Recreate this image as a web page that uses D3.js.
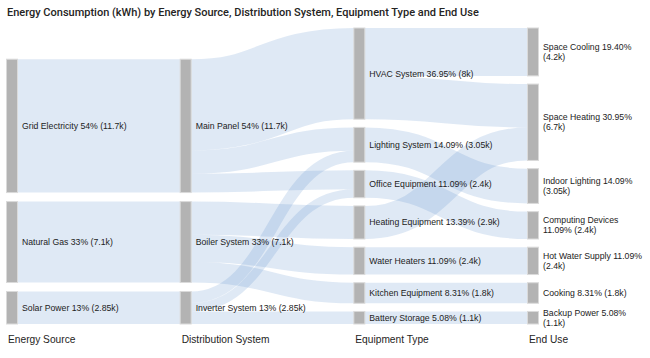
<!DOCTYPE html>
<html><head><meta charset="utf-8">
<script src="https://cdn.jsdelivr.net/npm/d3@7"></script>
<style>body{margin:0;background:#fff;} svg{display:block;}</style>
</head><body><svg id="c" width="650" height="358"></svg>
<script>
const chartTitle = "Energy Consumption (kWh) by Energy Source, Distribution System, Equipment Type and End Use";
const columnNames = ["Energy Source", "Distribution System", "Equipment Type", "End Use"];

const energySources = ["Grid Electricity", "Natural Gas", "Solar Power"];
const energySourceValues = [11.7, 7.1, 2.85];
const energySourcePct = ["54%", "33%", "13%"];

const distributionSystems = ["Main Panel", "Boiler System", "Inverter System"];
const distributionValues = [11.7, 7.1, 2.85];
const distributionPct = ["54%", "33%", "13%"];

const equipmentTypes = ["HVAC System", "Lighting System", "Office Equipment", "Heating Equipment", "Water Heaters", "Kitchen Equipment", "Battery Storage"];
const equipmentValues = [8, 3.05, 2.4, 2.9, 2.4, 1.8, 1.1];
const equipmentPct = ["36.95%", "14.09%", "11.09%", "13.39%", "11.09%", "8.31%", "5.08%"];

const endUses = ["Space Cooling", "Space Heating", "Indoor Lighting", "Computing Devices", "Hot Water Supply", "Cooking", "Backup Power"];
const endUseValues = [4.2, 6.7, 3.05, 2.4, 2.4, 1.8, 1.1];
const endUsePct = ["19.40%", "30.95%", "14.09%", "11.09%", "11.09%", "8.31%", "5.08%"];

const linkSources = ["Grid Electricity", "Natural Gas", "Solar Power",
  "Main Panel", "Main Panel", "Main Panel",
  "Boiler System", "Boiler System", "Boiler System",
  "Inverter System", "Inverter System", "Inverter System",
  "HVAC System", "HVAC System", "Lighting System", "Office Equipment",
  "Heating Equipment", "Water Heaters", "Kitchen Equipment", "Battery Storage"];
const linkTargets = ["Main Panel", "Boiler System", "Inverter System",
  "HVAC System", "Lighting System", "Office Equipment",
  "Heating Equipment", "Water Heaters", "Kitchen Equipment",
  "Lighting System", "Office Equipment", "Battery Storage",
  "Space Cooling", "Space Heating", "Indoor Lighting", "Computing Devices",
  "Space Heating", "Hot Water Supply", "Cooking", "Backup Power"];
const linkValues = [11.7, 7.1, 2.85,
  8, 2.05, 1.65,
  2.9, 2.4, 1.8,
  1.0, 0.75, 1.1,
  4.2, 3.8, 3.05, 2.4,
  2.9, 2.4, 1.8, 1.1];

// ---- build table ----
const groups = [
  [energySources, energySourceValues, energySourcePct],
  [distributionSystems, distributionValues, distributionPct],
  [equipmentTypes, equipmentValues, equipmentPct],
  [endUses, endUseValues, endUsePct]
];
const nodes = [];
const byName = {};
groups.forEach((g, ci) => {
  g[0].forEach((name, i) => {
    const n = {name, value: g[1][i], pct: g[2][i], col: ci, sourceLinks: [], targetLinks: []};
    nodes.push(n); byName[name] = n;
  });
});
const links = linkSources.map((s, i) => {
  const l = {source: byName[linkSources[i]], target: byName[linkTargets[i]], value: linkValues[i]};
  l.source.sourceLinks.push(l); l.target.targetLinks.push(l);
  return l;
});

// ---- layout ----
const nodeWidth = 11;
const x = d3.scalePoint().domain(columnNames).range([6.5, 527.5]);
const total = d3.sum(energySourceValues);
const h = d3.scaleLinear().domain([0, total]).range([0, 246.8]);
const bottom = 324;
columnNames.forEach((c, ci) => {
  const colNodes = nodes.filter(n => n.col === ci);
  const pad = colNodes.length > 3 ? 8.2 : 9;
  const span = d3.sum(colNodes, n => h(n.value)) + pad * (colNodes.length - 1);
  let y = bottom - span;
  colNodes.forEach(n => {
    n.x0 = x(c); n.x1 = n.x0 + nodeWidth;
    n.y0 = y; n.y1 = y + h(n.value); y = n.y1 + pad;
  });
});
nodes.forEach(n => {
  n.sourceLinks.sort((a, b) => a.target.y0 - b.target.y0);
  n.targetLinks.sort((a, b) => a.source.y0 - b.source.y0);
  let y = n.y0;
  n.sourceLinks.forEach(l => { l.width = h(l.value); l.y0 = y + l.width / 2; y += l.width; });
  y = n.y0;
  n.targetLinks.forEach(l => { l.y1 = y + l.width / 2; y += l.width; });
});

const svg = d3.select("#c");

svg.append("text")
  .attr("x", 7).attr("y", 16)
  .attr("font-family", "Roboto, 'Open Sans', sans-serif")
  .attr("font-weight", 500)
  .attr("font-size", 11)
  .attr("fill", "#252423")
  .text(chartTitle);

const linkPath = d3.linkHorizontal()
  .source(d => [d.source.x1, d.y0])
  .target(d => [d.target.x0, d.y1]);

svg.append("g")
  .attr("fill", "none")
  .selectAll("path").data(links).join("path")
  .attr("d", linkPath)
  .attr("stroke", "rgb(95,145,205)")
  .attr("stroke-opacity", 0.2)
  .attr("stroke-width", d => Math.max(1, d.width));

svg.append("g").selectAll("rect").data(nodes).join("rect")
  .attr("x", d => d.x0).attr("y", d => d.y0)
  .attr("width", d => d.x1 - d.x0).attr("height", d => d.y1 - d.y0)
  .attr("fill", "#b3b3b3")
  .attr("stroke", "#dadada").attr("stroke-width", 1);

const labelG = svg.append("g")
  .attr("font-family", "'Liberation Sans', Arial, sans-serif")
  .attr("font-size", 8.7)
  .attr("fill", "#222");

const maxW = 100;
nodes.forEach(n => {
  const full = `${n.name} ${n.pct} (${n.value}k)`;
  const t = labelG.append("text").attr("x", n.x1 + 4.5).attr("y", (n.y0 + n.y1) / 2);
  let lines = [full];
  if (n.col === 3) {
    const words = full.split(" ");
    lines = [];
    let cur = "";
    const probe = labelG.append("text").attr("visibility", "hidden");
    words.forEach(w => {
      const test = cur ? cur + " " + w : w;
      probe.text(test);
      if (probe.node().getComputedTextLength() > maxW && cur) { lines.push(cur); cur = w; }
      else cur = test;
    });
    lines.push(cur);
    probe.remove();
  }
  const lh = 10;
  lines.forEach((ln, i) => {
    t.append("tspan").attr("x", n.x1 + 4.5)
      .attr("y", (n.y0 + n.y1) / 2 + (i - (lines.length - 1) / 2) * lh)
      .attr("dy", "0.35em").text(ln);
  });
});

svg.append("g").selectAll("text").data(columnNames).join("text")
  .attr("x", d => x(d) + 1.5).attr("y", 343)
  .attr("font-family", "'Liberation Sans', Arial, sans-serif")
  .attr("font-size", 10.2)
  .attr("fill", "#252423")
  .text(d => d);
</script>
</body></html>
